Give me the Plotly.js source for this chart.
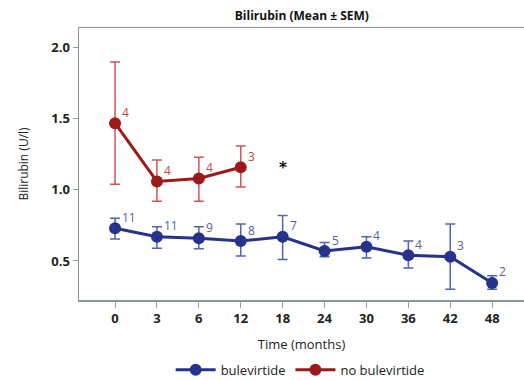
<!DOCTYPE html>
<html>
<head>
<meta charset="utf-8">
<script src="https://cdn.plot.ly/plotly-3.0.1.min.js"></script>
<style>html,body{margin:0;padding:0;background:#fff;}#chart{width:524px;height:380px;}</style>
</head>
<body>
<div id="chart"></div>
<script>
// Time points (months), treated as equally spaced categories
var timeLabels = ["0", "3", "6", "12", "18", "24", "30", "36", "42", "48"];

// bulevirtide
var bulMean  = [0.73, 0.67, 0.66, 0.64, 0.67, 0.57, 0.60, 0.54, 0.53, 0.345];
var bulUpper = [0.80, 0.74, 0.74, 0.76, 0.82, 0.63, 0.67, 0.64, 0.76, 0.395];
var bulLower = [0.655, 0.59, 0.585, 0.535, 0.51, 0.53, 0.52, 0.45, 0.30, 0.30];
var bulN     = ["11", "11", "9", "8", "7", "5", "4", "4", "3", "2"];

// no bulevirtide
var noTime  = ["0", "3", "6", "12"];
var noMean  = [1.47, 1.06, 1.08, 1.16];
var noUpper = [1.90, 1.21, 1.23, 1.31];
var noLower = [1.04, 0.92, 0.92, 1.02];
var noN     = ["4", "4", "4", "3"];

// significance marker
var sigTime = "18";
var sigY = 1.175;

function diff(a, b) { return a.map(function (v, i) { return +(v - b[i]).toFixed(4); }); }
function catIndex(t) { return timeLabels.indexOf(t); }

var blueLine = "#26338c", blueErr = "#5363ac", blueTxt = "#4f5fa6";
var redLine = "#9c1a1a", redErr = "#d05555", redTxt = "#cc4444";

var traces = [
  {
    x: timeLabels, y: bulMean, type: "scatter", mode: "lines+markers",
    name: "bulevirtide",
    line: {color: blueLine, width: 3},
    marker: {color: blueLine, size: 12},
    error_y: {type: "data", symmetric: false,
      array: diff(bulUpper, bulMean), arrayminus: diff(bulMean, bulLower),
      color: blueErr, thickness: 1.5, width: 5}
  },
  {
    x: noTime, y: noMean, type: "scatter", mode: "lines+markers",
    name: "no bulevirtide",
    line: {color: redLine, width: 3},
    marker: {color: redLine, size: 12},
    error_y: {type: "data", symmetric: false,
      array: diff(noUpper, noMean), arrayminus: diff(noMean, noLower),
      color: redErr, thickness: 1.5, width: 5}
  }
];

var annotations = [];
bulN.forEach(function (t, i) {
  annotations.push({x: catIndex(timeLabels[i]), y: bulMean[i], text: t, showarrow: false,
    xanchor: "left", yanchor: "middle", xshift: 5, yshift: 11,
    font: {family: "Open Sans, sans-serif", size: 12, color: blueTxt}});
});
noN.forEach(function (t, i) {
  annotations.push({x: catIndex(noTime[i]), y: noMean[i], text: t, showarrow: false,
    xanchor: "left", yanchor: "middle", xshift: 5, yshift: 11,
    font: {family: "Open Sans, sans-serif", size: 12, color: redTxt}});
});
annotations.push({x: catIndex(sigTime), y: sigY, text: "<b>*</b>", showarrow: false,
  xanchor: "center", yanchor: "middle", yshift: -3,
  font: {family: "DejaVu Sans, sans-serif", size: 15, color: "#111"}});

var layout = {
  width: 524, height: 380,
  margin: {l: 79, r: 0, t: 28, b: 80, autoexpand: false},
  paper_bgcolor: "#fff", plot_bgcolor: "#fff",
  font: {family: "Open Sans, sans-serif", color: "#222"},
  title: {text: "<b>Bilirubin (Mean ± SEM)</b>", x: 0.576, xanchor: "center", y: 0.958, yanchor: "middle",
    font: {size: 12, color: "#111"}},
  showlegend: true,
  legend: {orientation: "h", x: 0.497, xanchor: "center", yref: "container", y: 0.027, yanchor: "middle",
    font: {size: 13, color: "#222"}, itemwidth: 40, tracegroupgap: 0},
  xaxis: {
    type: "category", categoryorder: "array", categoryarray: timeLabels,
    range: [-0.86, 9.76],
    showline: true, linecolor: "#8c9596", linewidth: 1.5, mirror: true,
    showgrid: false, zeroline: false,
    ticks: "outside", ticklen: 6, tickcolor: "#9aa0a0", tickwidth: 1,
    tickfont: {size: 13, color: "#222", weight: "bold"},
    title: {text: "Time (months)", font: {size: 13, color: "#222"}, standoff: 14}
  },
  yaxis: {
    range: [0.225, 2.14],
    tickvals: [0.5, 1.0, 1.5, 2.0], ticktext: ["0.5", "1.0", "1.5", "2.0"],
    showline: true, linecolor: "#8c9596", linewidth: 1.5, mirror: false,
    showgrid: false, zeroline: false,
    ticks: "outside", ticklen: 5, tickcolor: "#9aa0a0", tickwidth: 1,
    tickfont: {size: 13, color: "#222", weight: "bold"},
    title: {text: "Bilirubin (U/l)", font: {size: 12, color: "#222"}, standoff: 20}
  },
  annotations: annotations
};

Plotly.newPlot("chart", traces, layout, {displayModeBar: false, staticPlot: true});
</script>
</body>
</html>
